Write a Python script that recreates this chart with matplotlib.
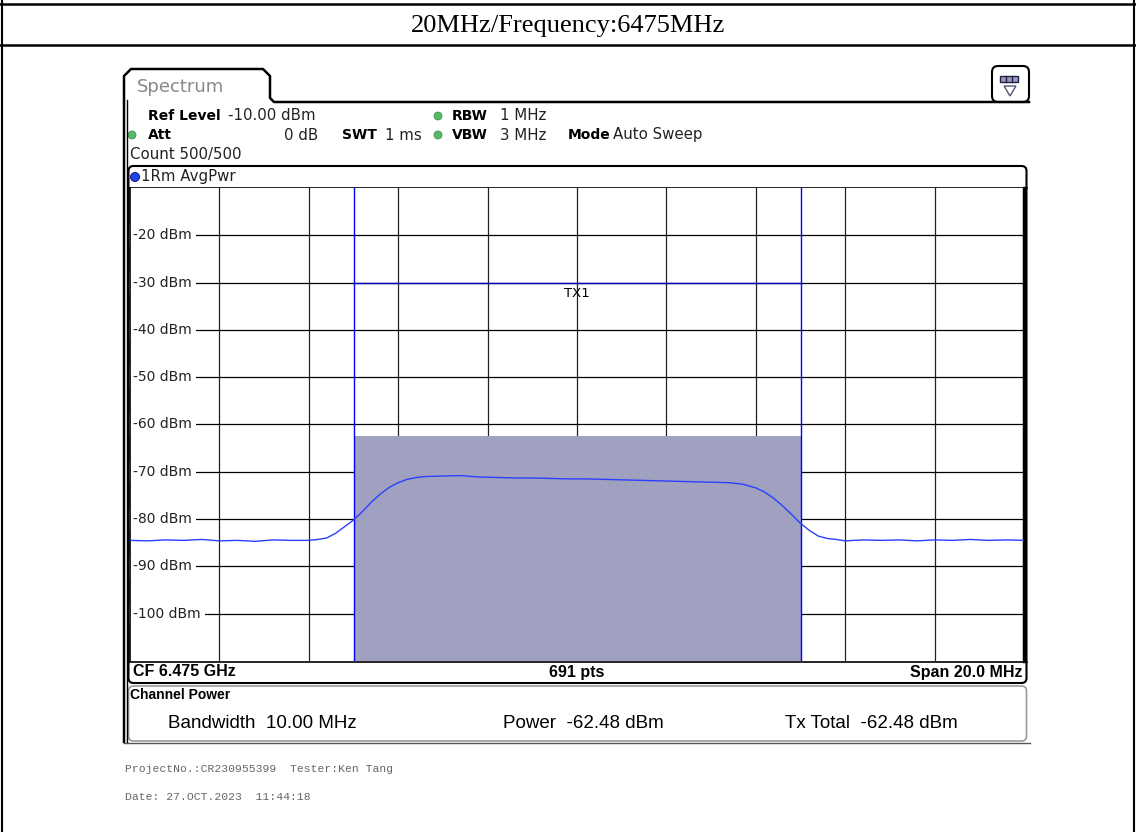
import numpy as np
import matplotlib
matplotlib.use("Agg")
import matplotlib.pyplot as plt
from matplotlib.patches import Rectangle, FancyBboxPatch, Circle, Polygon

# trace: frequency offset from CF (MHz) and level (dBm)
freq_mhz = [-10.0, -9.6, -9.2, -8.8, -8.4, -8.0, -7.6, -7.2, -6.8, -6.4,
            -6.0, -5.8, -5.6, -5.4, -5.2, -5.0, -4.8, -4.6, -4.4, -4.2,
            -4.0, -3.8, -3.6, -3.4, -3.0, -2.6, -2.2, -1.8, -1.4, -1.0,
            -0.6, -0.2, 0.2, 0.6, 1.0, 1.4, 1.8, 2.2, 2.6, 3.0,
            3.4, 3.7, 4.0, 4.2, 4.4, 4.6, 4.8, 5.0, 5.2, 5.4,
            5.6, 5.8, 6.0, 6.4, 6.8, 7.2, 7.6, 8.0, 8.4, 8.8,
            9.2, 9.6, 10.0]
level_dbm = [-84.5, -84.6, -84.4, -84.5, -84.3, -84.6, -84.5, -84.7, -84.4, -84.5,
             -84.5, -84.3, -84.0, -83.0, -81.6, -80.2, -78.4, -76.4, -74.7, -73.3,
             -72.3, -71.6, -71.2, -71.0, -70.9, -70.8, -71.1, -71.2, -71.3, -71.3,
             -71.4, -71.5, -71.5, -71.6, -71.7, -71.8, -71.9, -72.0, -72.1, -72.2,
             -72.3, -72.6, -73.4, -74.3, -75.6, -77.2, -79.0, -80.9, -82.4, -83.6,
             -84.1, -84.3, -84.6, -84.4, -84.5, -84.4, -84.6, -84.4, -84.5, -84.3,
             -84.5, -84.4, -84.5]

ref_level = -10.0
db_per_div = 10
y_labels = ['-20 dBm', '-30 dBm', '-40 dBm', '-50 dBm', '-60 dBm',
            '-70 dBm', '-80 dBm', '-90 dBm', '-100 dBm']
y_label_vals = [-20, -30, -40, -50, -60, -70, -80, -90, -100]
span_mhz = 20.0
channel_bw = 10.0
channel_power = -62.48

W, H = 1136, 832
fig = plt.figure(figsize=(W / 100, H / 100), dpi=100)

# background layer in pixel coordinates
bg = fig.add_axes([0, 0, 1, 1], zorder=0)
bg.set_xlim(0, W)
bg.set_ylim(H, 0)
bg.axis('off')

# report table lines
bg.plot([2, 2], [0, H], color='black', lw=1.5)
bg.plot([W - 2, W - 2], [0, H], color='black', lw=1.5)
bg.plot([0, W], [4, 4], color='black', lw=1.8)
bg.plot([0, W], [45, 45], color='black', lw=1.8)
bg.text(W / 2, 26, '20MHz/Frequency:6475MHz', ha='center', va='center',
        family='Liberation Serif', fontsize=19)

# Spectrum tab and outer frame
tab = [(124, 742), (124, 76), (131, 69), (263, 69), (270, 76), (270, 98), (274, 102), (1029, 102)]
bg.plot([p[0] for p in tab], [p[1] for p in tab], color='black', lw=1.8)
bg.plot([126.5, 126.5], [100, 742], color='black', lw=1.0)
bg.plot([124, 1030], [743, 743], color='#555555', lw=1.0)
bg.text(137, 87, 'Spectrum', ha='left', va='center', fontsize=13, color='#888888',
        family='DejaVu Sans')
bg.add_patch(FancyBboxPatch((992, 66), 37, 36, boxstyle='round,pad=0,rounding_size=6',
                            fc='white', ec='black', lw=1.5))
bg.add_patch(Rectangle((1000, 76), 18, 6, fc='#9999bb', ec='#222244', lw=1))
bg.plot([1006, 1006], [76, 82], color='#222244', lw=1)
bg.plot([1012, 1012], [76, 82], color='#222244', lw=1)
bg.add_patch(Polygon([(1004, 86), (1016, 86), (1010, 96)], closed=True,
                     fc='white', ec='#555577', lw=1))

# header
hdr = dict(va='center', fontsize=10, family='DejaVu Sans')
val = dict(va='center', fontsize=10.8, family='DejaVu Sans', color='#222222')
bg.text(148, 116, 'Ref Level', fontweight='bold', **hdr)
bg.text(228, 116, '-10.00 dBm', **val)
bg.text(148, 135, 'Att', fontweight='bold', **hdr)
bg.text(318, 135, '0 dB', ha='right', **val)
bg.text(342, 135, 'SWT', fontweight='bold', **hdr)
bg.text(385, 135, '1 ms', **val)
bg.text(452, 116, 'RBW', fontweight='bold', **hdr)
bg.text(500, 116, '1 MHz', **val)
bg.text(452, 135, 'VBW', fontweight='bold', **hdr)
bg.text(500, 135, '3 MHz', **val)
bg.text(568, 135, 'Mode', fontweight='bold', **hdr)
bg.text(613, 135, 'Auto Sweep', **val)
bg.text(130, 154, 'Count 500/500', **val)
for cx, cy in [(132, 135), (438, 116), (438, 135)]:
    bg.add_patch(Circle((cx, cy), 4, fc='#55bb66', ec='#338844', lw=0.5))

# trace window frame
bg.add_patch(FancyBboxPatch((128.5, 166), 898, 517, boxstyle='round,pad=0,rounding_size=5',
                            fc='white', ec='black', lw=1.5))
bg.add_patch(Circle((135, 177), 4.5, fc='#2244ee', ec='#000066', lw=0.6))
bg.text(141, 177, '1Rm AvgPwr', **val)
bg.plot([129, 1027], [188, 188], color='black', lw=1.2)
bg.plot([129, 1027], [661.5, 661.5], color='black', lw=1.2)
bot = dict(va='center', fontsize=11.5, family='Liberation Sans', fontweight='bold')
bg.text(133, 672, 'CF 6.475 GHz', ha='left', **bot)
bg.text(577, 672, '691 pts', ha='center', **bot)
bg.text(1022, 672, 'Span 20.0 MHz', ha='right', **bot)

# channel power box
bg.add_patch(FancyBboxPatch((128.5, 686), 898, 55, boxstyle='round,pad=0,rounding_size=5',
                            fc='white', ec='#999999', lw=1.2))
bg.text(130, 695, 'Channel Power', va='center', fontsize=10, family='Liberation Sans',
        fontweight='bold')
cp = dict(va='center', fontsize=13.5, family='Liberation Sans')
bg.text(168, 724, 'Bandwidth  10.00 MHz', **cp)
bg.text(503, 724, 'Power  -62.48 dBm', **cp)
bg.text(785, 724, 'Tx Total  -62.48 dBm', **cp)

# footer
ft = dict(va='center', fontsize=8.2, family='Liberation Mono', color='#666666')
bg.text(125, 769, 'ProjectNo.:CR230955399  Tester:Ken Tang', **ft)
bg.text(125, 797, 'Date: 27.OCT.2023  11:44:18', **ft)

# spectrum plot area
ax = fig.add_axes([130 / W, (H - 661) / H, 894 / W, 473 / H], zorder=1)
ax.set_xlim(-span_mhz / 2, span_mhz / 2)
ax.set_ylim(ref_level - 10 * db_per_div, ref_level)
ax.set_xticks([])
ax.set_yticks([])
for s in ['bottom', 'top']:
    ax.spines[s].set_visible(False)
ax.spines['right'].set_linewidth(2.5)
ax.spines['left'].set_linewidth(1.2)

for x in np.arange(-8, 10, 2):
    ax.axvline(x, color='#222222', lw=0.9, zorder=1)
for lab, v in zip(y_labels, y_label_vals):
    ax.axhline(v, color='black', lw=0.9, zorder=1)
    ax.text(-9.93, v, lab, ha='left', va='center', fontsize=10, family='DejaVu Sans', zorder=2,
            color='#222222', bbox=dict(fc='white', ec='none', pad=3))

ax.add_patch(Rectangle((-channel_bw / 2, ref_level - 10 * db_per_div), channel_bw,
                       channel_power - (ref_level - 10 * db_per_div),
                       fc='#a0a0c0', ec='none', zorder=3))
ax.axvline(-channel_bw / 2, color='#0000ff', lw=1.0, zorder=4)
ax.axvline(channel_bw / 2, color='#0000ff', lw=1.0, zorder=4)
ax.plot([-channel_bw / 2, channel_bw / 2], [-30, -30], color='#0000bb', lw=1.0, zorder=4)
ax.text(0, -31, 'TX1', ha='center', va='top', fontsize=9.5, family='DejaVu Sans', zorder=4)

ax.plot(freq_mhz, level_dbm, color='#2a40ff', lw=1.0, zorder=5)

fig.savefig('out.png', dpi=100)
